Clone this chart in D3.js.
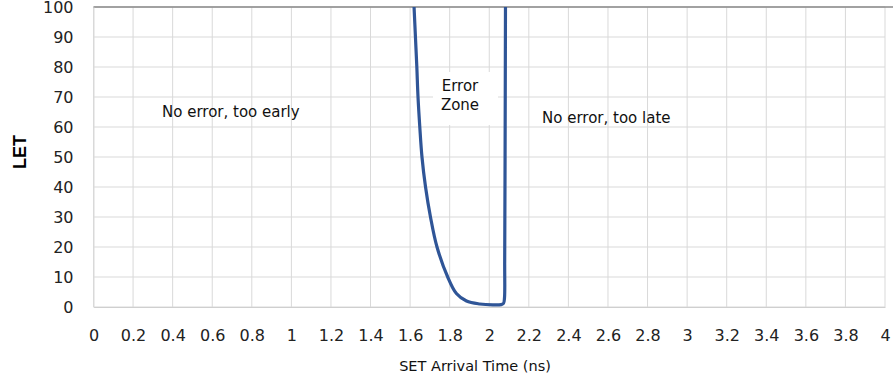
<!DOCTYPE html>
<html>
<head>
<meta charset="utf-8">
<script src="https://cdn.jsdelivr.net/npm/d3@7"></script>
<style>
body { margin: 0; background: #fff; }
.tick text { font-family: "DejaVu Sans", sans-serif; font-size: 16px; fill: #222; }
.note { font-family: "DejaVu Sans", sans-serif; font-size: 15px; fill: #111; }
</style>
</head>
<body>
<script>
// SET arrival time (ns) vs LET boundary of the error zone
const arrival = [1.62, 1.627, 1.634, 1.64, 1.649, 1.66, 1.678, 1.703, 1.736, 1.79, 1.834, 1.885, 1.952, 2.018, 2.06, 2.072, 2.077, 2.078, 2.08, 2.082];
const letVals = [100, 90, 80, 70, 60, 50, 40, 30, 20, 10, 4.5, 2, 1, 0.7, 0.8, 1.2, 3, 15, 50, 100];
const xTicks = d3.range(0, 21).map(i => +(i * 0.2).toFixed(1));
const yTicks = d3.range(0, 11).map(i => i * 10);

const W = 893, H = 383;
const plotL = 93.5, plotR = 885, plotT = 7, plotB = 307;

var svg = d3.select("body").append("svg")
    .attr("width", W)
    .attr("height", H);

var x = d3.scaleLinear().domain([0, 4]).range([plotL, plotR]);
var y = d3.scaleLinear().domain([0, 100]).range([plotB, plotT]);

// grid
svg.append("g")
    .selectAll("line")
    .data(xTicks)
    .enter().append("line")
    .attr("x1", d => x(d)).attr("x2", d => x(d))
    .attr("y1", plotT).attr("y2", plotB)
    .attr("stroke", "#d9d9d9");

svg.append("g")
    .selectAll("line")
    .data(yTicks)
    .enter().append("line")
    .attr("x1", plotL).attr("x2", plotR)
    .attr("y1", d => y(d)).attr("y2", d => y(d))
    .attr("stroke", "#d9d9d9");

// top border
svg.append("line")
    .attr("x1", plotL).attr("x2", W)
    .attr("y1", plotT).attr("y2", plotT)
    .attr("stroke", "#888").attr("stroke-width", 1.5);

// axes
var xAxis = svg.append("g")
    .attr("transform", `translate(0,${plotB})`)
    .call(d3.axisBottom(x).tickValues(xTicks).tickSize(0).tickPadding(23).tickFormat(d3.format("")));
xAxis.select(".domain").attr("stroke", "#cfcfcf");

var yAxis = svg.append("g")
    .attr("transform", `translate(${plotL},0)`)
    .call(d3.axisLeft(y).tickValues(yTicks).tickSize(0).tickPadding(20));
yAxis.select(".domain").attr("stroke", "#d9d9d9");

// Error zone label box
svg.append("rect")
    .attr("x", 433).attr("y", 72)
    .attr("width", 65).attr("height", 53)
    .attr("fill", "#fff");

// curve
var line = d3.line()
    .x((d, i) => x(arrival[i]))
    .y(d => y(d))
    .curve(d3.curveCatmullRom.alpha(0.5));

svg.append("path")
    .datum(letVals)
    .attr("d", line)
    .attr("fill", "none")
    .attr("stroke", "#2f5597")
    .attr("stroke-width", 3.2);

// annotations
svg.append("text").attr("class", "note")
    .attr("x", 162).attr("y", 117)
    .text("No error, too early");
svg.append("text").attr("class", "note")
    .attr("x", 542).attr("y", 123)
    .text("No error, too late");
svg.append("text").attr("class", "note")
    .attr("x", 460).attr("y", 90.5).attr("text-anchor", "middle")
    .text("Error");
svg.append("text").attr("class", "note")
    .attr("x", 460).attr("y", 109.5).attr("text-anchor", "middle")
    .text("Zone");

// axis titles
svg.append("text")
    .attr("transform", "translate(26,152) rotate(-90)")
    .attr("text-anchor", "middle")
    .attr("font-family", "'Liberation Sans Narrow', 'Liberation Sans', sans-serif")
    .attr("font-weight", "bold")
    .attr("font-size", 18)
    .text("LET");

svg.append("text")
    .attr("x", 475).attr("y", 370.5)
    .attr("text-anchor", "middle")
    .attr("font-family", "DejaVu Sans, sans-serif")
    .attr("font-size", 14.5)
    .attr("fill", "#111")
    .text("SET Arrival Time (ns)");
</script>
</body>
</html>
